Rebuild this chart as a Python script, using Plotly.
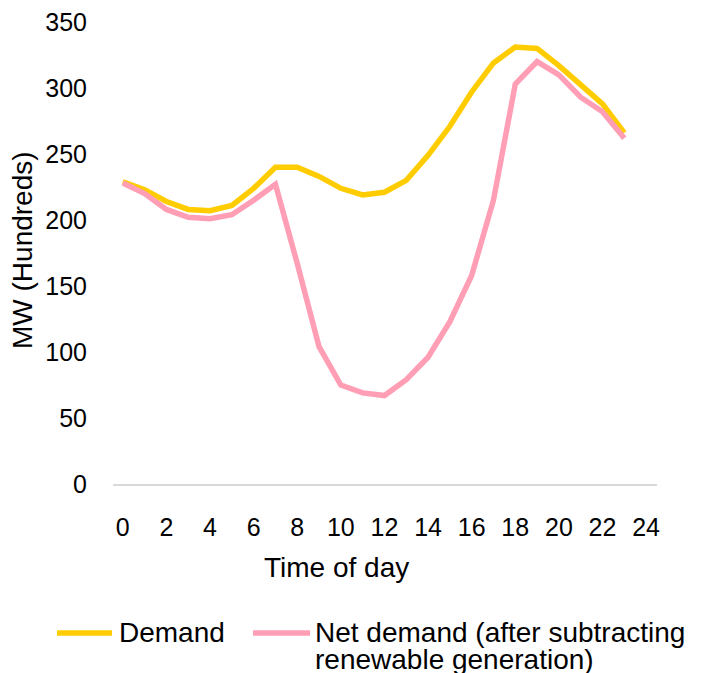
import plotly.graph_objects as go

hours = list(range(24))
demand = [229, 223, 214, 208, 207, 211, 224, 240, 240, 233, 224, 219,
          221, 230, 249, 271, 297, 319, 331, 330, 317, 302, 288, 266]
net_demand = [228, 220, 208, 202, 201, 204, 215, 227, 167, 104, 75, 69,
              67, 79, 96, 123, 158, 215, 303, 320, 310, 293, 282, 262]
x_ticks = list(range(0, 25, 2))
y_ticks = list(range(0, 351, 50))

series_names = ["Demand", "Net demand (after subtracting", "renewable generation)"]
x_title = "Time of day"
y_title = "MW (Hundreds)"

YELLOW = "#FFCC00"
PINK = "#FF9EB5"
FONT = "Liberation Sans, Arial, sans-serif"

fig = go.Figure()
fig.add_trace(go.Scatter(x=hours, y=demand, mode="lines",
                         line=dict(color=YELLOW, width=5.5), showlegend=False))
fig.add_trace(go.Scatter(x=hours, y=net_demand, mode="lines",
                         line=dict(color=PINK, width=5.5), showlegend=False))

# page body has an 8px margin: the figure is sized to fill the rest of the window
OFF = 8
W, H = 710 - OFF, 673 - OFF
L, R, T, B = 113 - OFF, 53, 22 - OFF, 189
pw, ph = W - L - R, H - T - B


def px(xp):
    # xp: pixel position in the window
    return (xp - OFF - L) / pw


def py(yp):
    return (H - B - (yp - OFF)) / ph


fig.update_layout(
    width=W, height=H,
    margin=dict(l=L, r=R, t=T, b=B, autoexpand=False),
    paper_bgcolor="white", plot_bgcolor="white",
    font=dict(family=FONT, size=25, color="#000000"),
    showlegend=False,
    xaxis=dict(range=[-0.45, 24.5], tickvals=x_ticks, showgrid=False,
               zeroline=False, showline=True, linecolor="#D9D9D9", linewidth=1.5,
               ticks="outside", ticklen=20, tickcolor="rgba(0,0,0,0)",
               tickfont=dict(size=25), ticklabeloverflow="allow",
               automargin=False),
    yaxis=dict(range=[0, 350], tickvals=y_ticks, showgrid=False,
               zeroline=False, showline=False,
               ticks="outside", ticklen=20, tickcolor="rgba(0,0,0,0)",
               tickfont=dict(size=25), ticklabeloverflow="allow",
               automargin=False),
)

annotations = [
    dict(text=x_title, x=px(336), y=py(567), xref="paper", yref="paper",
         xanchor="center", yanchor="middle", showarrow=False, font=dict(size=28)),
    dict(text=y_title, x=px(22), y=py(250), xref="paper", yref="paper",
         xanchor="center", yanchor="middle", showarrow=False, textangle=-90,
         font=dict(size=28)),
    dict(text=series_names[0], x=px(117), y=py(632), xref="paper", yref="paper",
         xanchor="left", yanchor="middle", showarrow=False, font=dict(size=28)),
    dict(text=series_names[1], x=px(313), y=py(632), xref="paper", yref="paper",
         xanchor="left", yanchor="middle", showarrow=False, font=dict(size=28)),
    dict(text=series_names[2], x=px(313), y=py(659), xref="paper", yref="paper",
         xanchor="left", yanchor="middle", showarrow=False, font=dict(size=28)),
]
fig.update_layout(annotations=annotations)

shapes = [
    dict(type="line", xref="paper", yref="paper", x0=px(57), x1=px(112),
         y0=py(633), y1=py(633), line=dict(color=YELLOW, width=5.5)),
    dict(type="line", xref="paper", yref="paper", x0=px(253), x1=px(310),
         y0=py(633), y1=py(633), line=dict(color=PINK, width=5.5)),
]
fig.update_layout(shapes=shapes)

fig.write_html("out.html")
